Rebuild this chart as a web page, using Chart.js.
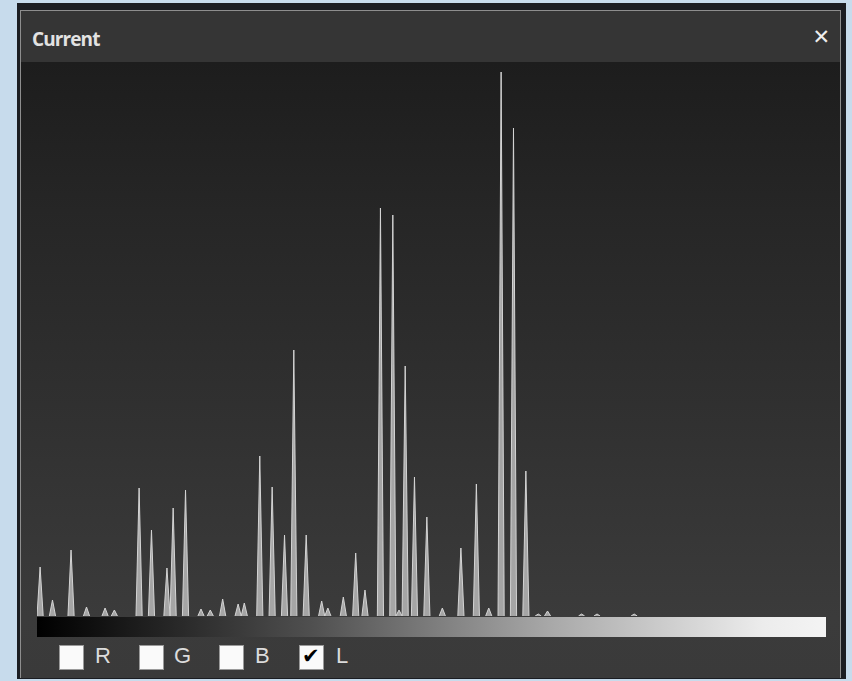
<!DOCTYPE html>
<html>
<head>
<meta charset="utf-8">
<script src="https://cdn.jsdelivr.net/npm/chart.js@4/dist/chart.umd.min.js"></script>
<style>
  html, body { margin: 0; padding: 0; }
  body { width: 852px; height: 681px; background: #c7dbec; position: relative; overflow: hidden; font-family: "Open Sans", "DejaVu Sans", sans-serif; }
  #frame { position: absolute; left: 17px; top: 3px; width: 829px; height: 676px; background: #1b1d22; }
  #win { position: absolute; left: 20px; top: 10px; width: 819px; height: 667px; border: 1px solid #8e8e8e; border-bottom: none; background: linear-gradient(to bottom, #1d1d1d 52px, #262626 200px, #3b3b3b 606px, #3a3a3a 667px); }
  #titlebar { position: absolute; left: 0; top: 0; width: 819px; height: 51px; background: #353535; }
  #title { position: absolute; left: 11px; top: 15px; color: #e2e2e2; font-weight: bold; font-size: 19px; letter-spacing: -0.9px; }
  #close { position: absolute; right: 10px; top: 14px; color: #eeeeee; font-size: 21px; font-family: "DejaVu Sans", sans-serif; }
  #plot { position: absolute; left: 37px; top: 62px; width: 789px; height: 554px; }
  #ramp { position: absolute; left: 37px; top: 617px; width: 789px; height: 20px; background: linear-gradient(to right, #000 0%, #0d0d0d 6%, #505050 35%, #a8a8a8 65%, #ececec 92%, #f4f4f4 100%); }
  .cb { position: absolute; top: 645px; width: 23px; height: 23px; background: #fafafa; border: 1px solid #9a9a9a; }
  .lbl { position: absolute; top: 643px; color: #dcdcdc; font-size: 22px; font-family: "Liberation Sans", Arial, sans-serif; }
  .tick { position: absolute; left: 2px; top: -2px; font-size: 21px; color: #000; font-weight: bold; font-family: "DejaVu Sans", sans-serif; }
</style>
</head>
<body>
<div id="frame"></div>
<div id="win">
  <div id="titlebar">
    <div id="title">Current</div>
    <div id="close">✕</div>
  </div>
</div>
<div id="plot"><canvas id="histChart"></canvas></div>
<div id="ramp"></div>
<div class="cb" style="left:59px"></div><div class="lbl" style="left:95px">R</div>
<div class="cb" style="left:139px"></div><div class="lbl" style="left:174px">G</div>
<div class="cb" style="left:219px"></div><div class="lbl" style="left:255px">B</div>
<div class="cb" style="left:299px"><span class="tick">✔</span></div><div class="lbl" style="left:336px">L</div>
<script>
// luminance levels 0..255
const levels = Array.from({ length: 256 }, (_, i) => i);

// pixel counts per level (L channel)
const counts = [
  0, 49, 0, 0, 0, 16, 0, 0, 0, 0, 0, 66, 0, 0, 0, 0,
  9, 0, 0, 0, 0, 0, 8, 0, 0, 6, 0, 0, 0, 0, 0, 0,
  0, 128, 0, 0, 0, 86, 0, 0, 0, 0, 48, 0, 108, 0, 0, 0,
  126, 0, 0, 0, 0, 7, 0, 0, 6, 0, 0, 0, 17, 0, 0, 0,
  0, 12, 0, 13, 0, 0, 0, 0, 160, 0, 0, 0, 129, 0, 0, 0,
  81, 0, 0, 266, 0, 0, 0, 81, 0, 0, 0, 0, 15, 0, 8, 0,
  0, 0, 0, 19, 0, 0, 0, 63, 0, 0, 26, 0, 0, 0, 0, 408,
  0, 0, 0, 401, 0, 6, 0, 250, 0, 0, 139, 0, 0, 0, 99, 0,
  0, 0, 0, 8, 0, 0, 0, 0, 0, 68, 0, 0, 0, 0, 132, 0,
  0, 0, 8, 0, 0, 0, 544, 0, 0, 0, 488, 0, 0, 0, 145, 0,
  0, 0, 2, 0, 0, 5, 0, 0, 0, 0, 0, 0, 0, 0, 0, 0,
  2, 0, 0, 0, 0, 2, 0, 0, 0, 0, 0, 0, 0, 0, 0, 0,
  0, 2, 0, 0, 0, 0, 0, 0, 0, 0, 0, 0, 0, 0, 0, 0,
  0, 0, 0, 0, 0, 0, 0, 0, 0, 0, 0, 0, 0, 0, 0, 0,
  0, 0, 0, 0, 0, 0, 0, 0, 0, 0, 0, 0, 0, 0, 0, 0,
  0, 0, 0, 0, 0, 0, 0, 0, 0, 0, 0, 0, 0, 0, 0, 0
];

const countMax = 554;

new Chart(document.getElementById('histChart'), {
  type: 'line',
  data: {
    labels: levels,
    datasets: [{
      label: 'L',
      data: counts,
      borderColor: '#d4d4d4',
      borderWidth: 1,
      backgroundColor: 'rgba(185,185,185,0.85)',
      fill: 'origin',
      tension: 0,
      pointRadius: 0,
      // no outline along the empty baseline
      segment: {
        borderColor: ctx => (ctx.p0.parsed.y === 0 && ctx.p1.parsed.y === 0) ? 'rgba(0,0,0,0)' : undefined
      }
    }]
  },
  options: {
    responsive: true,
    maintainAspectRatio: false,
    animation: false,
    layout: { padding: 0 },
    plugins: { legend: { display: false }, tooltip: { enabled: false } },
    scales: {
      x: { display: false, offset: false },
      y: { display: false, min: 0, max: countMax }
    }
  }
});
</script>
</body>
</html>
